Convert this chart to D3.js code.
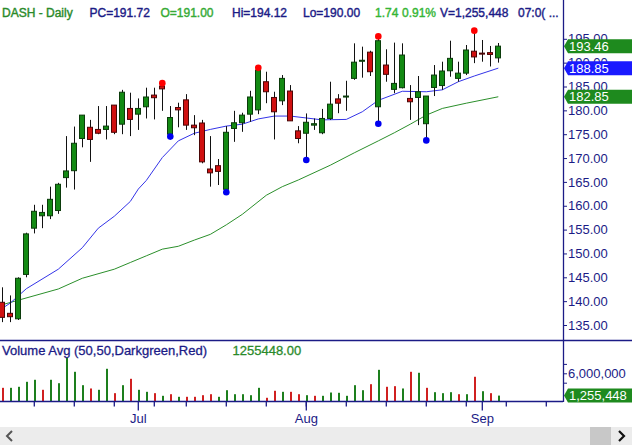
<!DOCTYPE html>
<html lang="en">
<head>
<meta charset="UTF-8">
<title>DASH - Daily</title>
<script src="https://d3js.org/d3.v7.min.js"></script>
<style>
  body { margin: 0; background: #fff; }
  svg { display: block; font-family: "Liberation Sans", Arial, sans-serif; }
  .axis text { fill: #1b1b86; font-size: 13px; }
  .axis line { stroke: #1b1b86; }
</style>
</head>
<body>
<div id="chart"></div>
<script>
// trading days on the chart (2021)
const dates = [
  "2021-06-08","2021-06-09","2021-06-10","2021-06-11","2021-06-14","2021-06-15","2021-06-16","2021-06-17","2021-06-18",
  "2021-06-21","2021-06-22","2021-06-23","2021-06-24","2021-06-25","2021-06-28","2021-06-29","2021-06-30",
  "2021-07-01","2021-07-02","2021-07-06","2021-07-07","2021-07-08","2021-07-09","2021-07-12","2021-07-13","2021-07-14",
  "2021-07-15","2021-07-16","2021-07-19","2021-07-20","2021-07-21","2021-07-22","2021-07-23","2021-07-26","2021-07-27",
  "2021-07-28","2021-07-29","2021-07-30","2021-08-02","2021-08-03","2021-08-04","2021-08-05","2021-08-06","2021-08-09",
  "2021-08-10","2021-08-11","2021-08-12","2021-08-13","2021-08-16","2021-08-17","2021-08-18","2021-08-19","2021-08-20",
  "2021-08-23","2021-08-24","2021-08-25","2021-08-26","2021-08-27","2021-08-30","2021-08-31","2021-09-01","2021-09-02",
  "2021-09-03"
];
// empty slots right of the last bar
const futureDates = ["2021-09-06","2021-09-07","2021-09-08","2021-09-09","2021-09-10","2021-09-13","2021-09-14","2021-09-15"];

const opens = [139.76,137.45,136.3,145.6,155.3,157.9,157.9,159.0,165.9,167.35,
  174.1,176.45,176.0,176.0,181.1,177.1,180.4,179.2,180.75,183.2,
  185.1,175.0,180.6,182.2,176.9,177.35,167.7,168.4,163.45,176.2,
  177.4,179.2,180.1,186.0,182.7,182.0,184.05,175.7,175.2,176.9,
  175.3,178.3,182.4,182.85,186.7,190.4,192.2,180.75,189.5,184.4,
  184.75,182.5,182.7,177.2,184.8,185.2,188.3,186.7,187.8,192.4,
  192.0,192.1,191.00];
const highs = [142.9,141.2,145.0,154.35,160.2,160.2,164.0,164.8,174.6,176.6,
  179.0,178.0,180.9,180.9,181.1,184.3,183.7,182.5,184.75,184.75,
  185.6,180.9,181.6,183.4,179.0,178.0,174.6,169.8,176.7,179.9,
  179.5,184.1,188.8,188.1,183.9,187.4,185.3,176.7,179.35,178.3,
  180.3,186.0,183.4,186.2,194.05,193.35,192.5,195.4,192.8,194.2,
  194.05,185.3,187.2,183.0,189.5,190.2,194.6,190.2,193.7,196.6,
  194.75,193.5,194.12];
const lows = [135.6,135.6,136.05,145.0,154.2,155.3,157.2,158.3,163.8,163.4,
  172.25,169.2,175.0,173.9,175.0,175.0,174.6,175.9,178.3,178.1,
  179.9,174.6,176.45,175.9,174.8,168.9,164.0,164.35,162.95,173.4,
  175.5,177.6,179.2,181.5,173.9,181.1,177.8,173.1,169.7,175.9,
  175.0,178.0,179.4,179.9,186.4,186.85,187.2,177.3,186.0,183.6,
  184.6,178.0,176.9,173.8,183.0,184.3,187.05,186.0,187.4,189.9,
  190.2,189.2,190.00];
const closes = [136.6,136.74,144.8,154.1,158.84,158.6,161.35,164.5,167.3,173.1,
  179.0,173.9,175.2,176.7,175.4,183.8,178.1,180.4,182.8,182.65,
  184.5,178.5,180.1,176.9,176.35,169.2,166.9,167.2,175.4,177.4,
  179.0,182.8,188.45,183.9,179.7,186.7,177.8,174.1,177.5,177.2,
  178.3,181.3,181.5,183.0,190.1,190.5,188.1,194.6,187.55,185.65,
  191.6,181.8,183.9,183.0,187.4,188.25,190.9,187.8,192.65,191.2,
  191.9,191.72,193.46];
const firstPrevClose = 137.5;
const volumes = [2910000,2910000,3130000,4190000,4620000,2490000,4620000,3890000,9300000,6320000,
  3470000,2770000,2490000,6960000,1770000,3470000,4830000,2490000,2060000,1770000,
  1210000,1550000,1000000,1000000,1000000,1340000,1550000,1000000,2400000,1550000,
  1550000,1340000,2910000,790000,2280000,2060000,2060000,1550000,1340000,1210000,
  1210000,1910000,1850000,1210000,3470000,2400000,3680000,6740000,3130000,3260000,
  2770000,6320000,6110000,2910000,1980000,1770000,1980000,1550000,1550000,5260000,
  2190000,1770000,1255448];

// moving averages at these bars
const maFastDates = ["2021-06-08","2021-06-09","2021-06-11","2021-06-17","2021-06-22","2021-06-24","2021-06-28","2021-06-30",
  "2021-07-01","2021-07-02","2021-07-07","2021-07-09","2021-07-13","2021-07-15","2021-07-19","2021-07-21","2021-07-23",
  "2021-07-27","2021-07-29","2021-08-02","2021-08-04","2021-08-09","2021-08-11","2021-08-13","2021-08-18","2021-08-23",
  "2021-08-25","2021-08-27","2021-08-31","2021-09-03"];
const maFastValues = [138.5,139.6,142.6,146.7,151.2,155.3,157.8,160.9,
  163.5,165.3,170.1,173.6,175.2,176.0,176.7,177.1,178.2,
  178.8,178.8,178.4,178.0,178.1,179.7,182.1,184.0,183.9,
  184.3,186.0,187.2,188.85];
const maSlowDates = ["2021-06-08","2021-06-10","2021-06-17","2021-06-22","2021-06-28","2021-06-30","2021-07-02","2021-07-07",
  "2021-07-09","2021-07-13","2021-07-15","2021-07-19","2021-07-21","2021-07-26","2021-07-28","2021-07-30","2021-08-05",
  "2021-08-10","2021-08-13","2021-08-17","2021-08-19","2021-08-23","2021-08-25","2021-08-30","2021-09-03"];
const maSlowValues = [139.25,140.2,142.55,144.8,146.7,148.1,149.5,150.9,
  151.5,152.8,154.0,156.0,158.2,162.2,164.0,165.4,168.5,
  171.1,173.6,175.3,177.1,179.0,180.4,181.5,182.85];

const swingHighDates = ["2021-07-07","2021-07-23","2021-08-13","2021-08-31"];
const swingLowDates = ["2021-07-08","2021-07-19","2021-08-02","2021-08-13","2021-08-23"];

const weekTicks = ["2021-06-14","2021-06-21","2021-06-28","2021-07-06","2021-07-12","2021-07-19","2021-07-26",
  "2021-08-02","2021-08-09","2021-08-16","2021-08-23","2021-08-30","2021-09-06","2021-09-13"];
const monthTicks = ["2021-07-01","2021-08-02","2021-09-01"];
const monthLabels = ["Jul","Aug","Sep"];
const priceTicks = [135,140,145,150,155,160,165,170,175,180,185,190,195];
const volumeTicks = [4000000,6000000,8000000];

const width = 632, height = 445;
const axisX = 563;
const navy = "#1b1b86";
const greenFill = "#138a13", redFill = "#d01010";

const svg = d3.select("#chart").append("svg")
  .attr("width", width).attr("height", height);

const x = d3.scaleBand()
  .domain(dates.concat(futureDates))
  .range([-1.7, -1.7 + 8 * (dates.length + futureDates.length)]);
const cx = d => x(d) + x.bandwidth() / 2;
const px = d => Math.round(cx(d));

const y = d3.scaleLinear().domain([135, 195]).range([325, 38.8]);
const yv = d3.scaleLinear().domain([0, 6000000]).range([401.5, 373.3]);

const bars = dates.map((d, i) => ({
  date: d, o: opens[i], h: highs[i], l: lows[i], c: closes[i], v: volumes[i],
  up: closes[i] >= (i ? closes[i - 1] : firstPrevClose)
}));

svg.append("clipPath").attr("id", "price-clip")
  .append("rect").attr("x", 0).attr("y", 0).attr("width", axisX).attr("height", 340);

// header
const header = [
  { t: "DASH - Daily", x: 2, c: "#2a8a2a" },
  { t: "PC=191.72", x: 89.5, c: navy },
  { t: "O=191.00", x: 160.5, c: "#35aa35" },
  { t: "Hi=194.12", x: 232, c: navy },
  { t: "Lo=190.00", x: 303, c: navy },
  { t: "1.74", x: 375, c: "#35b535" },
  { t: "0.91%", x: 402, c: "#35b535" },
  { t: "V=1,255,448", x: 440, c: navy },
  { t: "07:0( ...", x: 518, c: navy }
];
svg.append("g").selectAll("text").data(header).join("text")
  .attr("x", d => d.x).attr("y", 17)
  .attr("font-size", 12).attr("fill", d => d.c)
  .attr("stroke", d => d.c).attr("stroke-width", 0.4)
  .text(d => d.t);

const price = svg.append("g").attr("clip-path", "url(#price-clip)");

// moving averages
const maLine = d3.line().x(d => cx(d[0])).y(d => y(d[1]));
price.append("path")
  .datum(d3.zip(maSlowDates, maSlowValues))
  .attr("fill", "none").attr("stroke", "#2b8f2b").attr("stroke-width", 1)
  .attr("d", maLine);
price.append("path")
  .datum(d3.zip(maFastDates, maFastValues))
  .attr("fill", "none").attr("stroke", "#3434e8").attr("stroke-width", 1)
  .attr("d", maLine);

// candles
const candle = price.append("g").selectAll("g").data(bars).join("g");
candle.append("line")
  .attr("x1", d => px(d.date) + 0.5).attr("x2", d => px(d.date) + 0.5)
  .attr("y1", d => y(d.h)).attr("y2", d => y(d.l))
  .attr("stroke", "#111").attr("stroke-width", 1);
candle.append("rect")
  .attr("x", d => px(d.date) - 2.5)
  .attr("y", d => y(Math.max(d.o, d.c)))
  .attr("width", 5)
  .attr("height", d => Math.max(1, Math.abs(y(d.o) - y(d.c))))
  .attr("fill", d => d.c >= d.o ? greenFill : redFill)
  .attr("stroke", d => d.c >= d.o ? "#0b3b0b" : "#4a0606")
  .attr("stroke-width", 1);

// swing markers
const byDate = new Map(bars.map(b => [b.date, b]));
price.append("g").selectAll("circle").data(swingHighDates).join("circle")
  .attr("cx", d => cx(d)).attr("cy", d => y(byDate.get(d).h) - 0.5)
  .attr("r", 3.3).attr("fill", "#f00");
price.append("g").selectAll("circle").data(swingLowDates).join("circle")
  .attr("cx", d => cx(d)).attr("cy", d => y(byDate.get(d).l) + 0.5)
  .attr("r", 3.3).attr("fill", "#0000f0");

// volume panel
svg.append("g").selectAll("rect").data(bars).join("rect")
  .attr("x", d => px(d.date))
  .attr("y", d => yv(d.v))
  .attr("width", 2)
  .attr("height", d => yv(0) - yv(d.v))
  .attr("fill", d => d.up ? "#1d7f1d" : "#d02020");

svg.append("text").attr("x", 2).attr("y", 355).attr("font-size", 13)
  .attr("fill", navy).attr("stroke", navy).attr("stroke-width", 0.3)
  .text("Volume Avg (50,50,Darkgreen,Red)");
svg.append("text").attr("x", 232.5).attr("y", 355).attr("font-size", 13)
  .attr("fill", "#2a8a2a").attr("stroke", "#2a8a2a").attr("stroke-width", 0.3)
  .text("1255448.00");

// frame lines
svg.append("line").attr("x1", 0).attr("x2", width).attr("y1", 340.5).attr("y2", 340.5)
  .attr("stroke", navy).attr("stroke-width", 1.3);
svg.append("line").attr("x1", 0).attr("x2", axisX).attr("y1", 401.5).attr("y2", 401.5)
  .attr("stroke", navy).attr("stroke-width", 1.3);
svg.append("line").attr("x1", axisX + 0.5).attr("x2", axisX + 0.5).attr("y1", 0).attr("y2", 402)
  .attr("stroke", navy).attr("stroke-width", 1.3);

// time axis
const weekAxis = svg.append("g").attr("class", "axis")
  .attr("transform", "translate(0,401.5)")
  .call(d3.axisBottom(x).tickValues(weekTicks).tickSize(5).tickFormat(""));
weekAxis.select(".domain").remove();
const monthAxis = svg.append("g").attr("class", "axis")
  .attr("transform", "translate(0,401.5)")
  .call(d3.axisBottom(x).tickValues(monthTicks).tickSize(9).tickPadding(3)
    .tickFormat((d, i) => monthLabels[i]));
monthAxis.select(".domain").remove();
weekAxis.selectAll("line").attr("stroke-width", 1.3);
monthAxis.selectAll("line").attr("stroke-width", 1.3);

// price axis
const priceAxis = svg.append("g").attr("class", "axis")
  .attr("transform", `translate(${axisX},0)`)
  .call(d3.axisRight(y).tickValues(priceTicks).tickSize(4).tickPadding(1)
    .tickFormat(d3.format(".2f")));
priceAxis.select(".domain").remove();

// volume axis
const volAxis = svg.append("g").attr("class", "axis")
  .attr("transform", `translate(${axisX},0)`)
  .call(d3.axisRight(yv).tickValues(volumeTicks).tickSize(4).tickPadding(1)
    .tickFormat(d => d === 6000000 ? d3.format(",")(d) : ""));
volAxis.select(".domain").remove();

// last value tags
function tag(yPos, color, label) {
  const g = svg.append("g");
  g.append("path")
    .attr("d", `M${axisX + 1},${yPos} L${axisX + 5},${yPos - 7} L${width},${yPos - 7} L${width},${yPos + 7} L${axisX + 5},${yPos + 7} Z`)
    .attr("fill", color);
  g.append("text").attr("x", axisX + 6).attr("y", yPos + 4.7)
    .attr("font-size", 13).attr("fill", "#fff").text(label);
}
tag(y(closes[closes.length - 1]), "#1e8a1e", d3.format(".2f")(closes[closes.length - 1]));
tag(y(maFastValues[maFastValues.length - 1]), "#1a1aff", d3.format(".2f")(maFastValues[maFastValues.length - 1]));
tag(y(maSlowValues[maSlowValues.length - 1]), "#1e8a1e", d3.format(".2f")(maSlowValues[maSlowValues.length - 1]));
tag(yv(volumes[volumes.length - 1]), "#1e8a1e", d3.format(",")(volumes[volumes.length - 1]));

// scrollbar
svg.append("rect").attr("x", 0).attr("y", 427).attr("width", width).attr("height", 18).attr("fill", "#ececec");
svg.append("rect").attr("x", 590).attr("y", 427).attr("width", 21).attr("height", 18).attr("fill", "#c8c8c8");
svg.append("path").attr("d", "M12,431 L7,436 L12,441").attr("fill", "none")
  .attr("stroke", "#555").attr("stroke-width", 2);
svg.append("path").attr("d", "M619,431 L624,436 L619,441").attr("fill", "none")
  .attr("stroke", "#111").attr("stroke-width", 2.2);
</script>
</body>
</html>
